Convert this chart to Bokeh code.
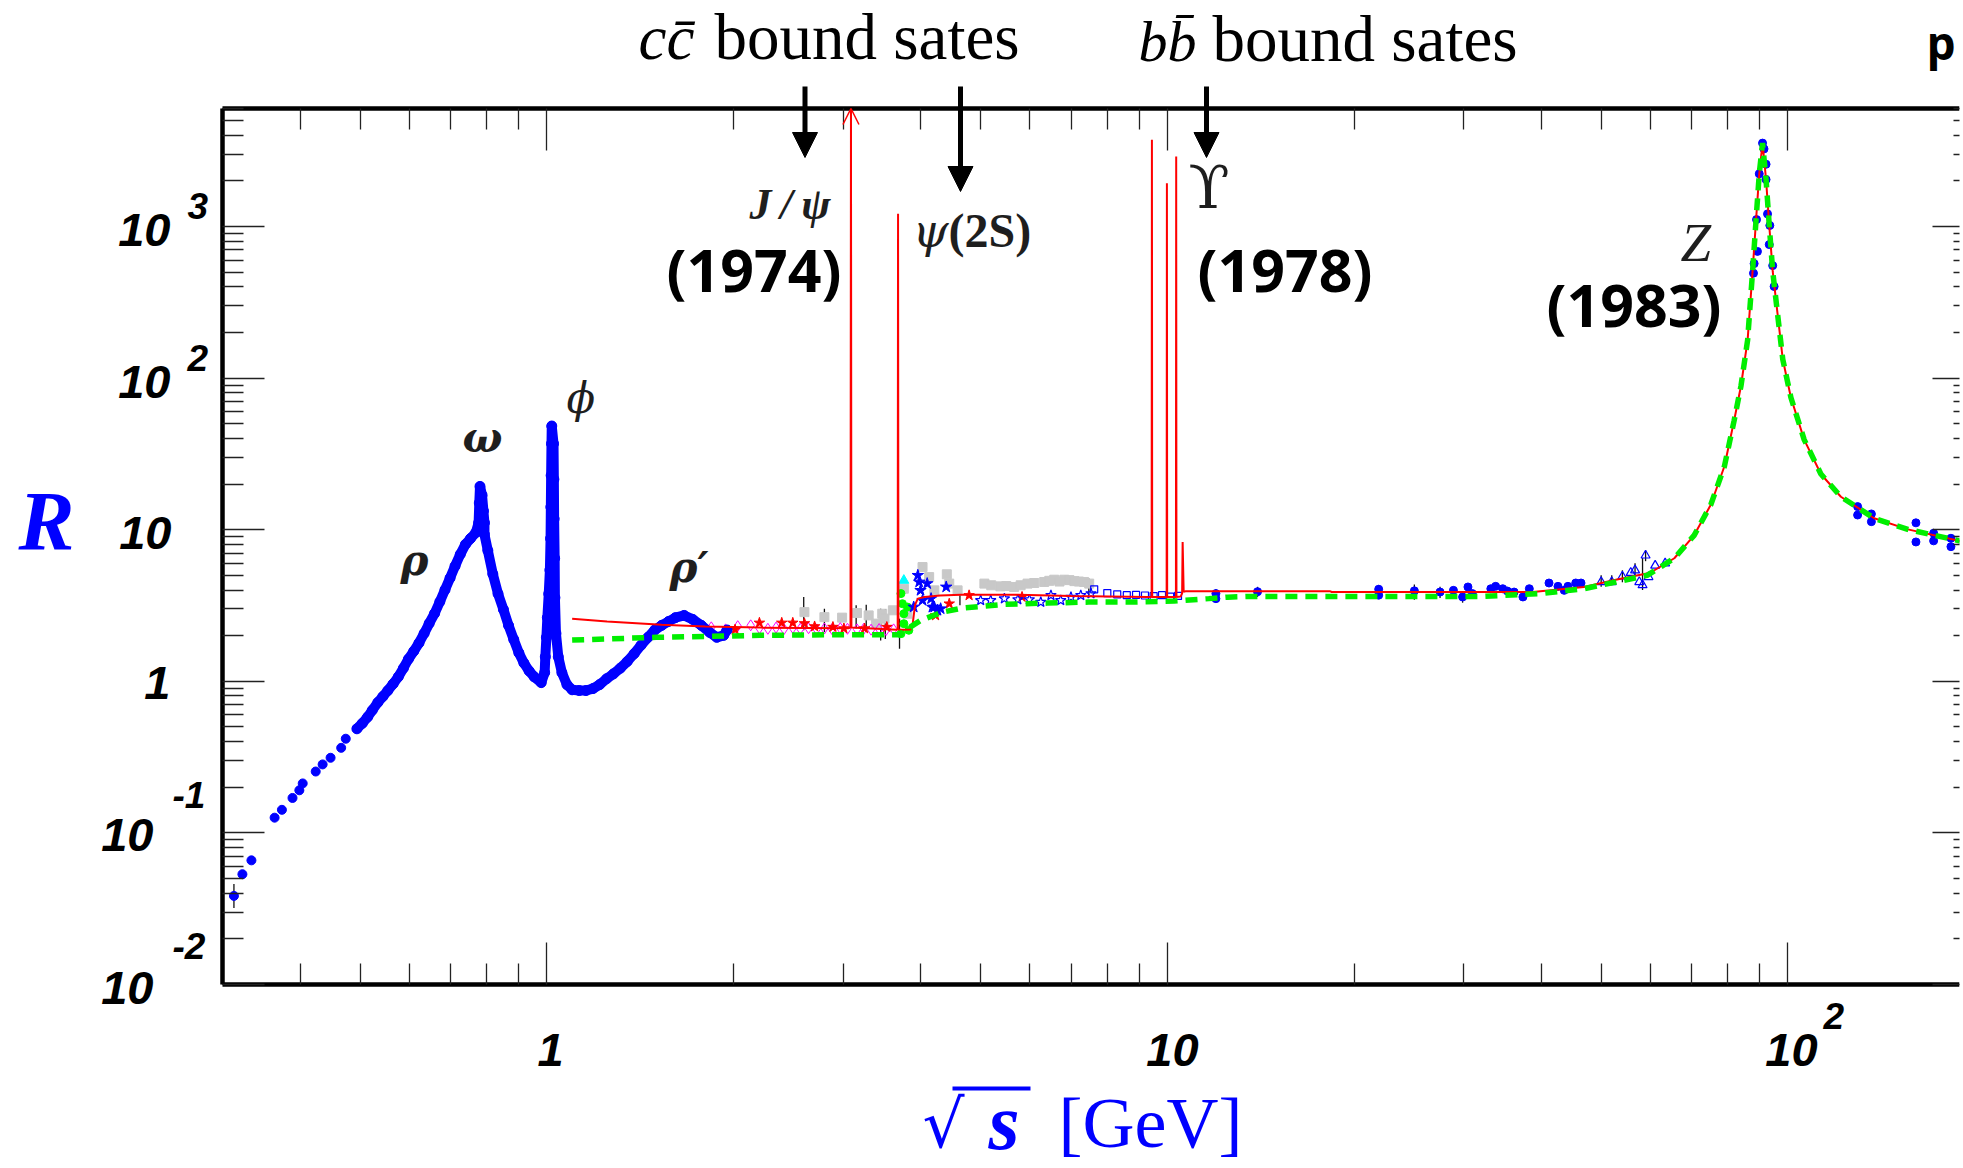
from bokeh.plotting import figure
from bokeh.models import LogAxis, FixedTicker, Label, Arrow, NormalHead, OpenHead, CustomJSTickFormatter
from bokeh.embed import file_html
from bokeh.resources import INLINE

# ---------------- data ----------------
# low-energy e+e- -> hadrons data, sparse part (below the rho)
lowE_sparse = [0.313, 0.323, 0.334, 0.364, 0.374, 0.389, 0.399, 0.404, 0.424, 0.435, 0.448, 0.466, 0.474]
lowR_sparse = [0.0384, 0.0534, 0.0659, 0.126, 0.142, 0.170, 0.191, 0.212, 0.254, 0.283, 0.313, 0.364, 0.418]

# dense part (rho / omega / phi / rho')
lowE_dense = [0.494, 0.504, 0.514, 0.523, 0.534, 0.544, 0.554, 0.565, 0.576, 0.587, 0.598, 0.610, 0.622,
              0.634, 0.646, 0.659, 0.672, 0.685, 0.698, 0.711, 0.725, 0.739, 0.753, 0.768, 0.776, 0.778,
              0.780, 0.786, 0.790, 0.793, 0.793, 0.803, 0.818, 0.834, 0.851, 0.867, 0.884, 0.901, 0.918,
              0.936, 0.954, 0.979, 0.9915, 0.994, 0.998, 1.0015, 1.0067, 1.011, 1.0135, 1.0146, 1.0157,
              1.017, 1.018, 1.0247, 1.026, 1.027, 1.029, 1.030, 1.034, 1.043, 1.057, 1.077, 1.098, 1.127,
              1.156, 1.186, 1.216, 1.248, 1.280, 1.313, 1.347, 1.382, 1.418, 1.455, 1.492, 1.531, 1.570,
              1.611, 1.664, 1.718, 1.773, 1.83, 1.878, 1.927, 1.951]
lowR_dense = [0.486, 0.528, 0.581, 0.644, 0.726, 0.794, 0.868, 0.961, 1.07, 1.22, 1.40, 1.58, 1.79,
              2.07, 2.41, 2.80, 3.35, 4.01, 4.80, 5.75, 6.88, 8.0, 8.75, 9.57, 11.1, 15.0,
              19.3, 16.9, 13.3, 11.1, 9.3, 7.3, 5.1, 3.78, 2.97, 2.34, 1.89, 1.54, 1.32,
              1.17, 1.07, 0.98, 1.14, 1.45, 1.95, 2.63, 3.78, 5.42, 8.75, 14.1, 22.8,
              36.9, 48.3, 36.9, 21.5, 11.8, 6.48, 3.56, 2.07, 1.45, 1.14, 0.951, 0.879, 0.869,
              0.869, 0.895, 0.951, 1.04, 1.12, 1.22, 1.35, 1.52, 1.73, 1.95, 2.18, 2.34, 2.48,
              2.63, 2.72, 2.56, 2.34, 2.10, 1.95, 2.01, 2.18]

# red curve (parametrisation incl. narrow resonances); J/psi runs off the top of the scale
redE = [1.098, 1.25, 1.53, 1.8, 2.21, 2.6, 3.06, 3.085, 3.09, 3.095, 3.4, 3.66, 3.675, 3.68, 3.685,
        3.75, 3.86, 3.886, 3.92, 3.96, 4.06, 4.3, 4.65, 5.74, 7.0, 9.29, 9.43, 9.44, 9.45, 9.97,
        9.98, 9.99, 10.32, 10.33, 10.34, 10.50, 10.56, 10.58, 10.62, 10.7, 18.3, 18.4, 38.8, 46.9,
        52.8, 60.0, 65.6, 70.6, 75.1, 79.0, 81.9, 84.0, 86.1, 87.7, 88.8, 89.9, 91.0, 92.2, 93.3,
        94.5, 96.2, 98.1, 101.1, 106.2, 113.0, 121.7, 137.7, 156.0, 190.0]
redR = [2.59, 2.48, 2.36, 2.30, 2.26, 2.25, 2.24, 2.26, 6000, 2.26, 2.22, 2.19, 2.2, 1213, 2.2,
        2.19, 2.2, 2.4, 3.2, 3.51, 3.6, 3.68, 3.73, 3.73, 3.66, 3.6, 3.6, 3733, 3.6, 3.6,
        1932, 3.6, 3.6, 2897, 3.6, 3.62, 3.8, 8.3, 3.9, 3.92, 3.92, 3.88, 3.88, 4.19,
        4.68, 5.2, 6.48, 9.18, 14.6, 26.2, 52.5, 88.7, 178, 506, 1077, 2225, 3548, 2040, 1016,
        507, 267, 133, 74.5, 39.3, 23.3, 16.5, 11.9, 10.05, 8.4]

# green dashed curve (perturbative QCD)
greenE = [1.098, 1.5, 2.21, 3.0, 3.7, 3.8, 4.0, 4.34, 4.67, 5.06, 5.46, 5.91, 6.41, 7.47, 8.74, 10.25,
          11.66, 12.5, 13.6, 32.3, 40.0, 46.9, 52.8, 59.3, 65.6, 70.6, 75.1, 79.0, 81.9, 84.0, 86.1,
          87.7, 88.8, 89.9, 91.0, 92.2, 93.3, 94.5, 96.2, 98.1, 101.1, 106.2, 113.0, 121.7, 137.7,
          156.0, 190.0]
greenR = [1.87, 1.95, 2.01, 2.03, 2.03, 2.2, 2.52, 2.86, 3.04, 3.13, 3.22, 3.25, 3.28, 3.33, 3.33, 3.38,
          3.51, 3.59, 3.63, 3.63, 3.79, 4.08, 4.52, 5.0, 6.48, 9.18, 14.6, 26.2, 52.5, 88.7, 178,
          506, 1077, 2225, 3548, 2040, 1016, 507, 267, 133, 74.5, 39.3, 23.3, 16.5, 11.9,
          10.05, 8.4]

# grey squares
greyE = [2.60, 2.80, 2.99, 3.16, 3.30, 3.39, 3.47, 3.50, 3.61, 3.76, 3.81, 4.03, 4.13, 4.21, 4.41,
         4.45, 4.59, 5.07, 5.2, 5.38, 5.5, 5.66, 5.8, 5.95, 6.1, 6.33, 6.45, 6.57, 6.7, 6.82, 6.95,
         7.08, 7.2, 7.34, 7.48]
greyR = [2.86, 2.65, 2.63, 2.82, 2.72, 2.40, 2.79, 2.59, 2.94, 4.08, 2.79, 5.67, 4.87, 3.98, 5.08,
         4.41, 3.98, 4.41, 4.30, 4.23, 4.25, 4.19, 4.30, 4.41, 4.45, 4.52, 4.60, 4.68, 4.55, 4.68, 4.65,
         4.58, 4.55, 4.52, 4.41]

# magenta open diamonds
magE = [1.84, 1.94, 2.03, 2.13, 2.20, 2.27, 2.34, 2.41, 2.49, 2.56, 2.64, 2.72, 2.80, 2.88, 2.97,
        3.05, 3.16, 3.24, 3.33, 3.43, 3.52, 3.62]
magR = [2.27, 2.20, 2.31, 2.34, 2.24, 2.22, 2.26, 2.21, 2.25, 2.22, 2.24, 2.20, 2.23, 2.21, 2.24,
        2.22, 2.20, 2.22, 2.19, 2.21, 2.18, 2.20]

# red stars
rstarE = [2.01, 2.20, 2.39, 2.49, 2.60, 2.70, 2.89, 3.01, 3.25, 3.53, 4.23, 4.45, 4.79, 5.83]
rstarR = [2.19, 2.43, 2.43, 2.43, 2.41, 2.30, 2.28, 2.23, 2.23, 2.28, 2.72, 3.25, 3.69, 3.60]

# blue open stars
bstarE = [5.0, 5.19, 5.46, 5.74, 5.99, 6.25, 6.49, 6.73, 6.99, 7.25, 7.53]
bstarR = [3.42, 3.42, 3.51, 3.46, 3.46, 3.33, 3.69, 3.42, 3.59, 3.69, 3.79]

# blue open squares
bsqE = [7.62, 8.0, 8.3, 8.6, 8.9, 9.2, 9.5, 9.8, 10.1, 10.4]
bsqR = [4.04, 3.82, 3.75, 3.70, 3.72, 3.68, 3.65, 3.70, 3.62, 3.66]

# blue filled stars at the charm threshold
bthrE = [3.90, 3.96, 3.98, 4.00, 4.03, 4.10, 4.16, 4.18, 4.21, 4.26, 4.31, 4.40]
bthrR = [3.09, 5.0, 4.52, 3.98, 3.42, 4.41, 3.51, 3.08, 3.09, 2.94, 3.01, 4.19]

# green filled points and cyan triangle near psi(3770)
grnE = [3.72, 3.74, 3.76, 3.76, 3.72, 3.83, 3.81]
grnR = [3.79, 3.25, 2.79, 2.40, 2.06, 2.17, 3.09]
cyanE = [3.76]
cyanR = [4.63]

# blue filled circles between the Upsilon and the Z
bcE = [11.97, 11.97, 13.97, 21.9, 21.9, 25.0, 27.5, 28.9, 29.9, 30.5, 31.0, 33.2, 33.8, 34.7, 35.3,
       36.2, 37.4, 38.3, 41.2, 42.6, 43.6, 44.2, 45.5, 46.4]
bcR = [3.79, 3.51, 3.90, 4.05, 3.70, 3.95, 3.88, 3.98, 3.60, 4.19, 3.79, 4.08, 4.23, 4.08, 3.94,
       3.88, 3.60, 4.08, 4.45, 4.23, 3.98, 4.23, 4.45, 4.45]

# blue open triangles below the Z
triE = [50.0, 52.0, 54.1, 55.8, 56.7, 57.6, 58.3, 58.96, 59.6, 61.1, 63.4]
triR = [4.52, 4.52, 4.92, 5.2, 5.4, 4.52, 4.31, 6.77, 4.88, 5.8, 6.0]

# blue filled circles at and above the Z
zE = [91.0, 91.5, 89.9, 92.2, 92.2, 89.0, 92.7, 93.5, 93.3, 88.2, 88.0, 89.3, 94.5, 95.0,
      129.5, 129.5, 136.3, 136.3, 160.8, 160.8, 171.7, 171.7, 183.1, 183.1]
zR = [3548, 3250, 2225, 2575, 2040, 1111, 1211, 1016, 760, 569, 492, 685, 552, 402,
      14.2, 12.5, 12.7, 11.3, 11.1, 8.3, 9.48, 8.44, 8.78, 7.73]

# black error bars (x, low, high)
errE = [0.313, 2.593, 2.80, 3.15, 3.27, 3.45, 3.51, 3.70, 4.63, 7.47, 11.97, 13.97, 21.9, 25.0,
        27.5, 29.9, 37.4, 50.0, 52.0, 54.1, 56.7, 58.3, 58.96]
errLo = [0.032, 2.17, 2.11, 2.23, 2.20, 1.86, 1.90, 1.64, 3.17, 3.69, 3.30, 3.60, 3.55, 3.45,
         3.55, 3.30, 3.40, 4.20, 4.30, 4.50, 4.90, 4.00, 6.20]
errHi = [0.046, 3.60, 3.01, 3.17, 3.20, 3.01, 3.00, 2.59, 4.19, 4.77, 4.05, 4.20, 4.30, 4.35,
         4.20, 3.90, 3.90, 5.00, 5.00, 5.40, 6.00, 6.50, 7.30]

# axis box and ticks
X_LO, X_BOX_HI = 0.3, 200.0
Y_LO, Y_HI = 0.01, 6000.0
x_major = [1, 10, 100]
y_major = [0.01, 0.1, 1, 10, 100, 1000]
x_minor = [m * 10.0 ** k for k in (-1, 0, 1, 2) for m in range(2, 10) if X_LO <= m * 10.0 ** k <= X_BOX_HI]
y_minor = [m * 10.0 ** k for k in range(-2, 4) for m in range(2, 10) if Y_LO <= m * 10.0 ** k <= Y_HI]
x_tick_labels = [("1", None), ("10", None), ("10", "2")]
y_tick_labels = [("10", "-2"), ("10", "-1"), ("1", None), ("10", None), ("10", "2"), ("10", "3")]

# ---------------- geometry ----------------
F_LEFT, F_BOTTOM = 222.0, 984.0      # pixel of the axis box's left / bottom edge
DEC_X, DEC_Y = 620.5, 151.6          # pixels per decade
W, H, B = 1963, 1168, 4              # canvas and its small border


def dx(px):
    return X_LO * 10 ** ((px - F_LEFT) / DEC_X)


def dy(py):
    return Y_LO * 10 ** ((F_BOTTOM - py) / DEC_Y)


p = figure(width=W, height=H, x_axis_type="log", y_axis_type="log",
           x_range=(dx(B), dx(W - B)), y_range=(dy(H - B), dy(B)),
           output_backend="svg", toolbar_location=None,
           min_border_left=B, min_border_right=B, min_border_top=B, min_border_bottom=B)
p.grid.visible = False
p.outline_line_color = None
p.background_fill_color = "white"
p.border_fill_color = "white"

bottom_axis = p.below[0]
left_axis = p.left[0]
top_axis = LogAxis()
right_axis = LogAxis()
p.add_layout(top_axis, "above")
p.add_layout(right_axis, "right")


def style_axis(ax, ticks, minors, bounds, loc=None, line=True, maj_in=42, min_in=21):
    ax.ticker = FixedTicker(ticks=ticks, minor_ticks=minors)
    ax.formatter = CustomJSTickFormatter(code="return ''")
    ax.bounds = bounds
    if loc is not None:
        ax.fixed_location = loc
    ax.major_tick_in = maj_in
    ax.major_tick_out = 0
    ax.minor_tick_in = min_in
    ax.minor_tick_out = 0
    ax.major_label_text_font_size = "1px"
    ax.major_label_text_alpha = 0
    ax.major_label_standoff = 0
    ax.axis_line_color = "black" if line else None
    ax.axis_line_width = 4.5
    ax.major_tick_line_color = "#222222"
    ax.major_tick_line_width = 1.3
    ax.minor_tick_line_color = "#222222"
    ax.minor_tick_line_width = 1.3


style_axis(bottom_axis, x_major, x_minor, (X_LO, 1000.0), loc=Y_LO)
style_axis(top_axis, x_major, x_minor, (X_LO, 1000.0), loc=Y_HI)
style_axis(left_axis, y_major, y_minor, (Y_LO, Y_HI), loc=X_LO)
style_axis(right_axis, y_major, y_minor, (Y_LO, Y_HI), line=False, maj_in=27, min_in=6)

BLUE = "#0000ff"

# ---------------- data marks ----------------
p.segment(x0=errE, y0=errLo, x1=errE, y1=errHi, line_color="#111111", line_width=1.3)
p.scatter(greyE, greyR, marker="square", size=9, fill_color="#c8c8c8", line_color="#c8c8c8")
p.scatter(magE, magR, marker="diamond", size=11, fill_color=None, line_color="#ff00ff", line_width=1)
p.scatter(rstarE, rstarR, marker="star", size=11, fill_color="#ff0000", line_color="#ff0000")
p.scatter(bstarE, bstarR, marker="star", size=11, fill_color=None, line_color=BLUE, line_width=1.2)
p.scatter(bsqE, bsqR, marker="square", size=7, fill_color=None, line_color=BLUE, line_width=1.2)
p.scatter(grnE, grnR, marker="circle", size=8, fill_color="#00ff00", line_color="#00ff00")
p.scatter(cyanE, cyanR, marker="triangle", size=10, fill_color="#00ffff", line_color="#00ffff")
p.scatter(bthrE, bthrR, marker="star", size=12, fill_color=BLUE, line_color=BLUE)
p.scatter(bcE, bcR, marker="circle", size=8, fill_color=BLUE, line_color=BLUE)
p.scatter(triE, triR, marker="triangle", size=9, fill_color=None, line_color=BLUE, line_width=1.2)
p.scatter(zE, zR, marker="circle", size=8, fill_color=BLUE, line_color=BLUE)

p.scatter(lowE_sparse, lowR_sparse, marker="circle", size=9, fill_color=BLUE, line_color=BLUE)
p.line(lowE_dense, lowR_dense, line_color=BLUE, line_width=10, line_join="round", line_cap="round")
p.scatter(lowE_dense, lowR_dense, marker="circle", size=10, fill_color=BLUE, line_color=BLUE)

p.line(redE, redR, line_color="#ff0000", line_width=2)
p.line(greenE, greenR, line_color="#00ee00", line_width=5.5, line_dash="12 8")

# red open arrow head where J/psi leaves the scale
p.add_layout(Arrow(end=OpenHead(size=16, line_color="#ff0000", line_width=1.5),
                   x_start=3.09, y_start=dy(160), x_end=3.09, y_end=Y_HI,
                   line_color="#ff0000", line_width=1.5))

# ---------------- black arrows for the bound states ----------------
for ax_px, tip in [(804.5, 157), (960, 191), (1206, 157)]:
    p.add_layout(Arrow(end=NormalHead(size=25, fill_color="black", line_color="black"),
                       x_start=dx(ax_px), y_start=dy(86), x_end=dx(ax_px), y_end=dy(tip),
                       line_color="black", line_width=5))

# vertical offset of the drawn baseline under the anchor, per font (fraction of font size)
KB = {"Liberation Sans": 0.34, "Liberation Serif": 0.38, "Open Sans": 0.28,
      "DejaVu Serif": 0.37, "DejaVu Sans": 0.37}


def lab(text, px, base, size, font="Liberation Sans", style="bold italic", color="black", align="left"):
    p.add_layout(Label(x=dx(px), y=dy(base - KB[font] * size), text=text, text_font=font,
                       text_font_size=f"{size}px", text_font_style=style, text_color=color,
                       text_align=align, text_baseline="alphabetic"))


# y tick labels (pixel placement of mantissa / exponent)
y_lab_pos = [(153, 1003, 172, 958), (153, 850, 172, 807), (170, 698, None, None),
             (171, 548, None, None), (170, 397, 187, 370), (170, 245, 187, 218)]
for (mant, expo), (mx, my, ex_, ey_) in zip(y_tick_labels, y_lab_pos):
    lab(mant, mx, my, 47, align="right")
    if expo:
        lab(expo, ex_, ey_, 37)

# x tick labels
x_lab_pos = [(550, 1065, None, None), (1172, 1065, None, None), (1791, 1065, 1823, 1028)]
for (mant, expo), (mx, my, ex_, ey_) in zip(x_tick_labels, x_lab_pos):
    lab(mant, mx, my, 47, align="center")
    if expo:
        lab(expo, ex_, ey_, 37)

# axis titles
lab("R", 18, 553, 84, font="Liberation Serif", color=BLUE)
lab("\u221a", 922, 1148, 66, font="DejaVu Sans", style="normal", color=BLUE)
lab("s", 988, 1152, 80, font="Liberation Serif", color=BLUE)
lab("[GeV]", 1058, 1150, 72, font="Liberation Serif", style="normal", color=BLUE)
p.add_layout(Arrow(end=None, x_start=dx(952), y_start=dy(1088), x_end=dx(1030), y_end=dy(1088),
                   line_color=BLUE, line_width=4))

# bound-state headers
lab("cc\u0304", 638, 61, 63, font="Liberation Serif", style="italic")
lab("bound sates", 714, 61, 65, font="Liberation Serif", style="normal")
lab("bb\u0304", 1138, 63, 58, font="Liberation Serif", style="italic")
lab("bound sates", 1212, 63, 65, font="Liberation Serif", style="normal")

# resonance names
GREY = "#1e1e1e"
lab("J\u2009/\u2009\u03c8", 749, 221, 44, font="Liberation Serif", color=GREY)
lab("\u03c8", 912, 248, 46, font="DejaVu Serif", style="italic", color=GREY)
lab("(2S)", 948, 248, 48, font="Liberation Serif", style="bold", color=GREY)
lab("\u03d2", 1188, 209, 60, font="DejaVu Serif", style="normal", color=GREY)
lab("Z", 1680, 263, 55, font="Liberation Serif", style="italic", color=GREY)
lab("\u03c1", 400, 576, 42, font="DejaVu Serif", style="bold italic", color=GREY)
lab("\u03c9", 462, 453, 42, font="DejaVu Serif", style="bold italic", color=GREY)
lab("\u03d5", 566, 414, 42, font="DejaVu Serif", style="italic", color=GREY)
lab("\u03c1\u2032", 669, 583, 42, font="DejaVu Serif", style="bold italic", color=GREY)

# discovery years
lab("(1974)", 666, 285, 59, font="Open Sans", style="bold")
lab("(1978)", 1197, 285, 59, font="Open Sans", style="bold")
lab("(1983)", 1546, 320, 59, font="Open Sans", style="bold")
lab("p", 1926, 54, 46, font="Open Sans", style="bold")

open("out.html", "w").write(file_html(p, INLINE))
